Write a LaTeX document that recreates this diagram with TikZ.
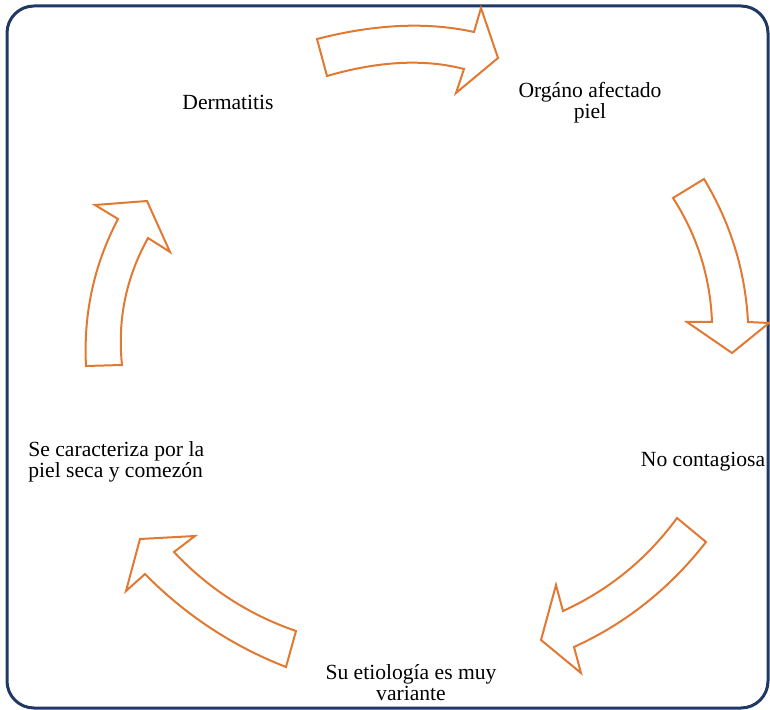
\documentclass[tikz,border=0pt]{standalone}
\usepackage{fontspec}
\setmainfont{Liberation Serif}
\usetikzlibrary{positioning}
\definecolor[named]{CycleOrange}{RGB}{226,121,50}
\definecolor[named]{FrameNavy}{RGB}{31,56,100}
\tikzset{
  cyclearrow/.style={draw=CycleOrange,line width=1pt,fill=white,line join=miter},
  cycletext/.style={font=\fontsize{10.8}{10.5}\selectfont,align=center,inner sep=0pt}
}

\begin{document}
\begin{tikzpicture}[x=0.5pt,y=-0.5pt]
        \useasboundingbox (0,0) rectangle (770,710);
        % Frame
        \draw[FrameNavy,line width=1.5pt,rounded corners=13.5pt] (7,6) rectangle (768,708);
        % Cycle arrows
        \draw[cyclearrow] (317,39) .. controls (375.3,24) and (427.7,21.7) .. (474,32) -- (481,8) -- (498,58)
          -- (456,93) -- (464,69) .. controls (424.3,58.7) and (378.7,61) .. (327,76) -- cycle;
        \draw[cyclearrow] (673,198) -- (704,179) .. controls (730.7,223.3) and (745.3,271) .. (748,322) -- (769,323)
          -- (732,353) -- (687,322) -- (712,322) .. controls (710.3,277.1) and (697.3,235.7) .. (673,198) -- cycle;
        \draw[cyclearrow] (677,518) -- (706,542) .. controls (670,588.3) and (626,623.3) .. (574,647) -- (581,673)
          -- (541,640) -- (556,585) -- (563,611) .. controls (609,590) and (647,559) .. (677,518) -- cycle;
        \draw[cyclearrow] (296,631) -- (286,667) .. controls (232.3,646) and (185.3,615) .. (145,574) -- (126,591)
          -- (140,539) -- (195,536) -- (174,552) .. controls (208,588.3) and (248.7,614.7) .. (296,631) -- cycle;
        \draw[cyclearrow] (86,366) -- (122,365) .. controls (117.3,320) and (126,277.7) .. (148,238) -- (170,252)
          -- (147,201) -- (95,205) -- (118,219) .. controls (94,264.7) and (83.3,313.7) .. (86,366) -- cycle;
        % Texts
        \node[cycletext] (dermatitis) at (228,102) {Dermatitis};
        \node[cycletext] (organo) at (590,103) {Orgáno afectado\\piel};
        \node[cycletext] (contagiosa) at (703,462) {No contagiosa};
        \node[cycletext] (etiologia) at (411,683) {Su etiología es muy\\variante};
        \node[cycletext,align=left,anchor=west] (caracteriza) at (28,461.5) {Se caracteriza por la\\piel seca y comezón};
      \end{tikzpicture}
\end{document}
